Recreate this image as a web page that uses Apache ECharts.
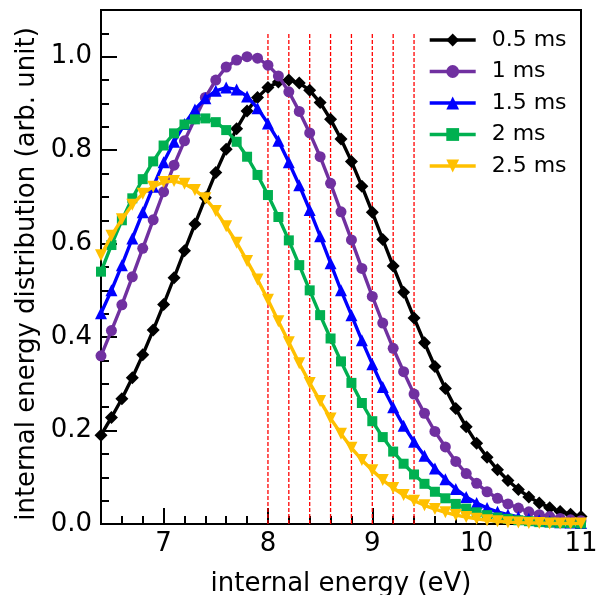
<!DOCTYPE html>
<html><head><meta charset="utf-8">
<script src="https://cdn.jsdelivr.net/npm/echarts@6/dist/echarts.min.js"></script>
<style>html,body{margin:0;padding:0;background:#fff}#c{width:598px;height:595px}</style>
</head><body><div id="c"></div>
<script>
const energy = [6.4,6.5,6.6,6.7,6.8,6.9,7.0,7.1,7.2,7.3,7.4,7.5,7.6,7.7,7.8,7.9,8.0,8.1,8.2,8.3,8.4,8.5,8.6,8.7,8.8,8.9,9.0,9.1,9.2,9.3,9.4,9.5,9.6,9.7,9.8,9.9,10.0,10.1,10.2,10.3,10.4,10.5,10.6,10.7,10.8,10.9,11.0];
const seriesNames = ['0.5 ms','1 ms','1.5 ms','2 ms','2.5 ms'];
const s05 = [0.19,0.228,0.268,0.313,0.362,0.415,0.47,0.527,0.585,0.642,0.698,0.752,0.802,0.846,0.884,0.913,0.934,0.946,0.95,0.944,0.928,0.902,0.866,0.824,0.776,0.723,0.667,0.609,0.552,0.496,0.441,0.388,0.337,0.29,0.247,0.208,0.173,0.143,0.116,0.093,0.074,0.058,0.045,0.035,0.027,0.021,0.016];
const s10 = [0.36,0.414,0.469,0.529,0.59,0.651,0.711,0.768,0.82,0.867,0.913,0.95,0.978,0.993,1.0,0.997,0.982,0.959,0.925,0.883,0.837,0.786,0.729,0.668,0.608,0.547,0.487,0.43,0.376,0.326,0.278,0.237,0.198,0.165,0.134,0.108,0.087,0.069,0.055,0.043,0.034,0.026,0.02,0.016,0.012,0.009,0.007];
const s15 = [0.451,0.5,0.554,0.611,0.667,0.722,0.774,0.818,0.856,0.887,0.911,0.927,0.934,0.93,0.915,0.89,0.857,0.82,0.774,0.725,0.672,0.616,0.558,0.5,0.447,0.393,0.342,0.293,0.25,0.21,0.176,0.146,0.119,0.096,0.075,0.058,0.045,0.034,0.026,0.02,0.015,0.011,0.008,0.006,0.004,0.003,0.002];
const s20 = [0.54,0.597,0.65,0.697,0.738,0.776,0.81,0.836,0.855,0.866,0.868,0.86,0.843,0.818,0.786,0.747,0.704,0.657,0.607,0.554,0.5,0.447,0.397,0.348,0.302,0.259,0.22,0.186,0.155,0.129,0.106,0.086,0.069,0.055,0.043,0.033,0.025,0.019,0.014,0.011,0.008,0.006,0.004,0.003,0.002,0.002,0.001];
const s25 = [0.575,0.617,0.652,0.683,0.707,0.722,0.732,0.734,0.728,0.715,0.697,0.67,0.637,0.602,0.563,0.523,0.48,0.434,0.389,0.344,0.302,0.263,0.226,0.193,0.163,0.137,0.115,0.094,0.077,0.062,0.05,0.04,0.032,0.025,0.019,0.015,0.011,0.008,0.006,0.004,0.003,0.002,0.002,0.001,0.001,0.001,0.001];
const refLines = [8.0,8.2,8.4,8.6,8.8,9.0,9.2,9.4];
const refRange = [0, 1.05];
const xMajorTicks = [7,8,9,10,11];
const xMinorTicks = [6.6,6.8,7.2,7.4,7.6,7.8,8.2,8.4,8.6,8.8,9.2,9.4,9.6,9.8,10.2,10.4,10.6,10.8];
const yMajorTicks = [0,0.2,0.4,0.6,0.8,1.0];
const yMinorTicks = [0.05,0.1,0.15,0.25,0.3,0.35,0.45,0.5,0.55,0.65,0.7,0.75,0.85,0.9,0.95,1.05];

const colors = ['#000000','#7030a0','#0000ff','#00b050','#ffc000'];
const symbols = ['diamond','circle','triangle','rect','triangle'];
const symSizes = [13,11,12,10,12];
const symRot = [0,0,0,0,180];
const allData = [s05,s10,s15,s20,s25];
const FONT = 'DejaVu Sans';

const chart = echarts.init(document.getElementById('c'), null, {renderer:'canvas'});
const grid = {left:101, right:17, top:10, bottom:71, show:true, borderColor:'#000', borderWidth:2, backgroundColor:'transparent', outerBoundsMode:'none', containLabel:false};
const baseX = {type:'value', min:6.4, max:11, gridIndex:0, position:'bottom', offset:0, splitLine:{show:false}};
const baseY = {type:'value', min:0, max:1.1, gridIndex:0, position:'left', offset:0, splitLine:{show:false}};
const refSeries = refLines.map(v=>({
  type:'line', xAxisIndex:0, yAxisIndex:0, silent:true, symbol:'none', animation:false, z:2,
  data: refRange.map(y=>[v,y]),
  lineStyle:{color:'#ff0000', width:1.3, type:[4,2]}
}));
const lineSeries = allData.map((d,i)=>({
  name: seriesNames[i], type:'line', xAxisIndex:0, yAxisIndex:0,
  data: energy.map((x,j)=>[x,d[j]]),
  symbol: symbols[i], symbolSize: symSizes[i], symbolRotate: symRot[i], showAllSymbol:true,
  lineStyle:{color:colors[i], width:3.4}, itemStyle:{color:colors[i], borderWidth:0},
  animation:false, clip:true, z:3+i
}));
const option = {
  animation:false,
  backgroundColor:'#fff',
  grid: grid,
  legend: {
    data: seriesNames, orient:'vertical', left:423, top:24, itemWidth:46, itemHeight:16, itemGap:9.5,
    lineStyle:{width:3.4},
    textStyle:{fontFamily:FONT, fontSize:22, color:'#000', padding:[0,0,0,11]}
  },
  xAxis: [
    Object.assign({}, baseX, {
      name:'internal energy (eV)', nameLocation:'middle', nameGap:47,
      nameTextStyle:{fontFamily:FONT, fontSize:26, color:'#000'},
      axisLine:{show:true, lineStyle:{color:'#000', width:2}},
      axisTick:{show:true, inside:true, length:16, customValues:xMajorTicks, lineStyle:{color:'#000', width:2}},
      axisLabel:{show:true, customValues:xMajorTicks, margin:7, fontFamily:FONT, fontSize:26, color:'#000', formatter:v=>String(Math.round(v))}
    }),
    Object.assign({}, baseX, {
      axisLine:{show:false},
      axisTick:{show:true, inside:true, length:8, customValues:xMinorTicks, lineStyle:{color:'#000', width:2}},
      axisLabel:{show:false}
    })
  ],
  yAxis: [
    Object.assign({}, baseY, {
      name:'internal energy distribution (arb. unit)', nameLocation:'middle', nameGap:61, nameRotate:90,
      nameTextStyle:{fontFamily:FONT, fontSize:26, color:'#000', padding:[0,14,0,0]},
      axisLine:{show:true, lineStyle:{color:'#000', width:2}},
      axisTick:{show:true, inside:true, length:16, customValues:yMajorTicks, lineStyle:{color:'#000', width:2}},
      axisLabel:{show:true, customValues:yMajorTicks, margin:9, fontFamily:FONT, fontSize:26, color:'#000', formatter:v=>v.toFixed(1)}
    }),
    Object.assign({}, baseY, {
      axisLine:{show:false},
      axisTick:{show:true, inside:true, length:8, customValues:yMinorTicks, lineStyle:{color:'#000', width:2}},
      axisLabel:{show:false}
    })
  ],
  series: refSeries.concat(lineSeries)
};
chart.setOption(option);
</script></body></html>
